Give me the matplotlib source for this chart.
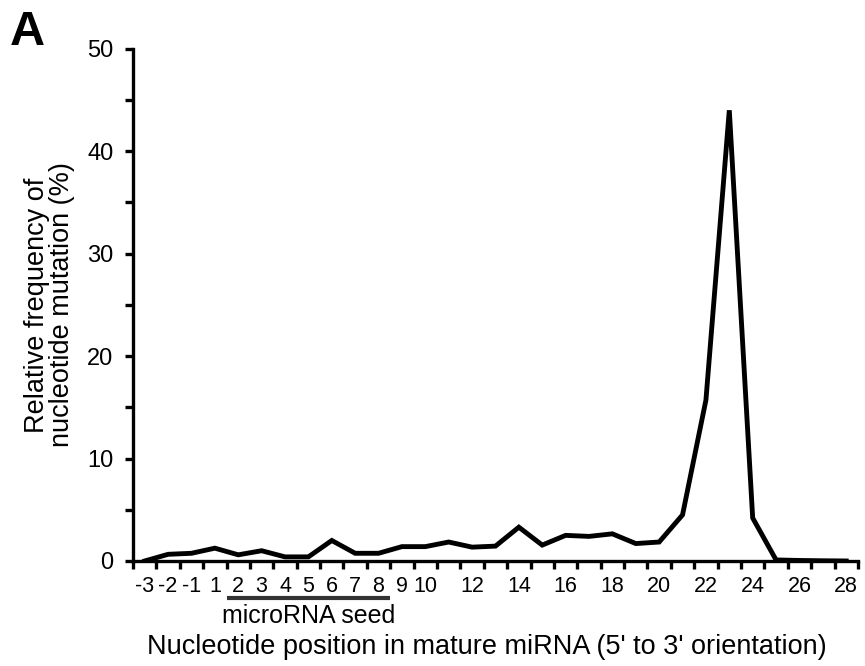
import matplotlib
matplotlib.use("Agg")
import matplotlib.pyplot as plt
import matplotlib.transforms as mtransforms
import numpy as np

plt.rcParams['font.family'] = ['Liberation Sans', 'DejaVu Sans']

# nucleotide positions (no position 0)
positions = [-3, -2, -1] + list(range(1, 29))
# relative frequency of nucleotide mutation (%)
freq = [0.0, 0.65, 0.75, 1.25, 0.6, 1.0, 0.4, 0.4, 2.0, 0.75, 0.75,
        1.4, 1.4, 1.85, 1.35, 1.45, 3.3, 1.55, 2.5, 2.4, 2.65, 1.7,
        1.85, 4.5, 15.7, 44.0, 4.2, 0.1, 0.05, 0.02, 0.0]
# tick labels: every position up to 10, then every second
tick_labels = [str(p) if (p <= 10 or p % 2 == 0) else '' for p in positions]

fig = plt.figure(figsize=(8.65, 6.66), dpi=100)
ax = fig.add_axes([0.1538, 0.1577, 0.838, 0.769])

idx = np.arange(len(positions))
ax.plot(idx, freq, color='black', lw=3.5, solid_joinstyle='miter')

ax.set_xlim(-0.5, len(positions) - 0.5)
ax.set_ylim(0, 50)

for s in ['top', 'right']:
    ax.spines[s].set_visible(False)
for s in ['left', 'bottom']:
    ax.spines[s].set_linewidth(2.4)

# y axis
ax.set_yticks([0, 10, 20, 30, 40, 50])
ax.set_yticks([5, 15, 25, 35, 45], minor=True)
ax.tick_params(axis='y', which='both', direction='out', length=6, width=2.4,
               labelsize=17, pad=8)

# x axis: labels at the category centers, ticks between categories
ax.set_xticks(idx)
ax.set_xticklabels(tick_labels)
ax.set_xticks(np.arange(-0.5, len(positions)), minor=True)
ax.tick_params(axis='x', which='major', length=0, labelsize=15.5, pad=11)
ax.tick_params(axis='x', which='minor', direction='out', length=6, width=2.4)

ax.set_ylabel('Relative frequency of\nnucleotide mutation (%)', fontsize=19.5,
              linespacing=0.95, labelpad=9)

# seed bracket under positions 2..8
trans = mtransforms.blended_transform_factory(ax.transData, fig.transFigure)
seed_start = positions.index(2) - 0.5
seed_end = positions.index(8) + 0.5
ax.plot([seed_start, seed_end], [1 - 598 / 666] * 2, color='#333333', lw=3,
        transform=trans, clip_on=False, solid_capstyle='butt')
ax.text((seed_start + seed_end) / 2, 1 - 604 / 666, 'microRNA seed', transform=trans,
        ha='center', va='top', fontsize=18)

fig.text(487 / 865, 1 - 634 / 666,
         "Nucleotide position in mature miRNA (5' to 3' orientation)",
         ha='center', va='top', fontsize=19.5)

fig.text(0.011, 1 - 10 / 666, 'A', fontsize=35, fontweight='bold', ha='left', va='top')

fig.savefig('out.png', dpi=100)
